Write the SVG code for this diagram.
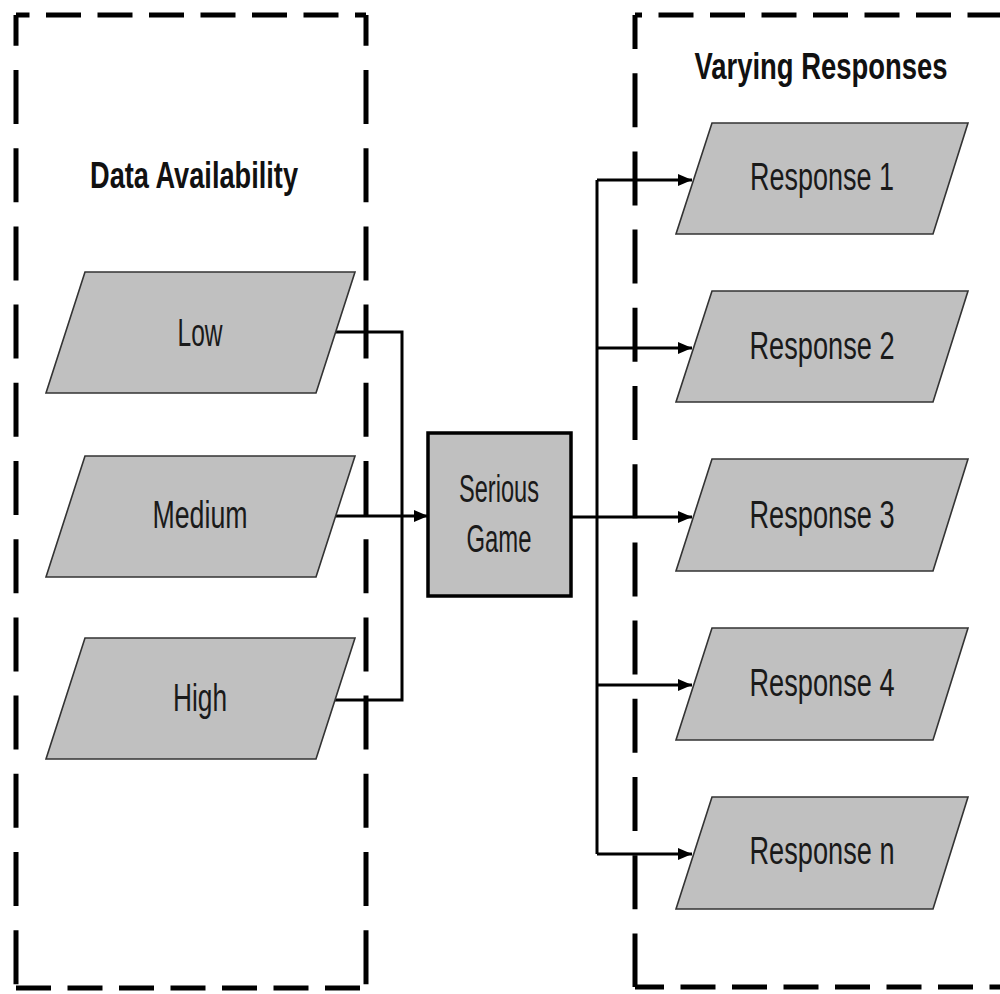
<svg xmlns="http://www.w3.org/2000/svg" width="1000" height="994" viewBox="0 0 1000 994">
<defs>
<marker id="arr" markerWidth="14" markerHeight="12" refX="14" refY="6" orient="auto" markerUnits="userSpaceOnUse">
<path d="M0,0 L14,6 L0,12 Z" fill="#000"/>
</marker>
<style>
.hd{stroke:#000;stroke-width:5;fill:none;stroke-dasharray:35 16.5}
.vd{stroke:#000;stroke-width:5;fill:none;stroke-dasharray:54 24.2}
.pg{fill:#c0c0c0;stroke:#333;stroke-width:1.6}
.box{fill:#c0c0c0;stroke:#000;stroke-width:3.5}
.t{font-family:"Liberation Sans",Arial,sans-serif;font-size:38px;fill:#1a1a1a;text-anchor:middle}
.tt{font-family:"Liberation Sans",Arial,sans-serif;font-size:36px;font-weight:bold;fill:#111;text-anchor:middle}
.c{stroke:#000;stroke-width:3;fill:none}
</style>
</defs>
<rect width="1000" height="994" fill="#fff"/>

<g id="group-data-availability">
<line class="hd" x1="16" y1="15" x2="366" y2="15" stroke-dashoffset="21.5"/>
<line class="hd" x1="16" y1="988" x2="366" y2="988" stroke-dashoffset="0"/>
<line class="vd" x1="16" y1="15" x2="16" y2="988" stroke-dashoffset="23.2"/>
<line class="vd" x1="366" y1="15" x2="366" y2="988" stroke-dashoffset="23.2"/>
<text class="tt" x="194" y="188" textLength="208" lengthAdjust="spacingAndGlyphs">Data Availability</text>
</g>

<g id="group-varying-responses">
<line class="hd" x1="635" y1="15" x2="1010" y2="15" stroke-dashoffset="28"/>
<line class="hd" x1="635" y1="987" x2="1010" y2="987" stroke-dashoffset="6"/>
<line class="vd" x1="635" y1="15" x2="635" y2="987" stroke-dashoffset="20"/>
<text class="tt" x="821" y="79" textLength="253" lengthAdjust="spacingAndGlyphs">Varying Responses</text>
</g>

<g id="connectors">
<polyline class="c" points="335,332 402,332 402,700 335,700"/>
<line class="c" x1="335" y1="516" x2="428" y2="516" marker-end="url(#arr)"/>
<line class="c" x1="571" y1="517" x2="692" y2="517" marker-end="url(#arr)"/>
<line class="c" x1="597" y1="180" x2="597" y2="854"/>
<line class="c" x1="597" y1="180" x2="692" y2="180" marker-end="url(#arr)"/>
<line class="c" x1="597" y1="348" x2="692" y2="348" marker-end="url(#arr)"/>
<line class="c" x1="597" y1="685" x2="692" y2="685" marker-end="url(#arr)"/>
<line class="c" x1="597" y1="854" x2="692" y2="854" marker-end="url(#arr)"/>
</g>

<g id="node-low">
<polygon class="pg" points="85,272 355,272 316,393 46,393"/>
<text class="t" x="200" y="346" textLength="45" lengthAdjust="spacingAndGlyphs">Low</text>
</g>
<g id="node-medium">
<polygon class="pg" points="85,456 355,456 316,577 46,577"/>
<text class="t" x="200" y="528" textLength="95" lengthAdjust="spacingAndGlyphs">Medium</text>
</g>
<g id="node-high">
<polygon class="pg" points="85,638 355,638 316,759 46,759"/>
<text class="t" x="200" y="711" textLength="54" lengthAdjust="spacingAndGlyphs">High</text>
</g>

<g id="node-serious-game">
<rect class="box" x="428" y="433" width="143" height="163"/>
<text class="t" x="499" y="502" textLength="80" lengthAdjust="spacingAndGlyphs">Serious</text>
<text class="t" x="499" y="552" textLength="65" lengthAdjust="spacingAndGlyphs">Game</text>
</g>

<g id="node-response-1">
<polygon class="pg" points="712,123 968,123 933,234 676,234"/>
<text class="t" x="822" y="190" textLength="144" lengthAdjust="spacingAndGlyphs">Response 1</text>
</g>
<g id="node-response-2">
<polygon class="pg" points="712,291 968,291 933,402 676,402"/>
<text class="t" x="822" y="359" textLength="145" lengthAdjust="spacingAndGlyphs">Response 2</text>
</g>
<g id="node-response-3">
<polygon class="pg" points="712,459 968,459 933,571 676,571"/>
<text class="t" x="822" y="528" textLength="145" lengthAdjust="spacingAndGlyphs">Response 3</text>
</g>
<g id="node-response-4">
<polygon class="pg" points="712,628 968,628 933,740 676,740"/>
<text class="t" x="822" y="696" textLength="145" lengthAdjust="spacingAndGlyphs">Response 4</text>
</g>
<g id="node-response-n">
<polygon class="pg" points="712,797 968,797 933,909 676,909"/>
<text class="t" x="822" y="864" textLength="145" lengthAdjust="spacingAndGlyphs">Response n</text>
</g>
</svg>
